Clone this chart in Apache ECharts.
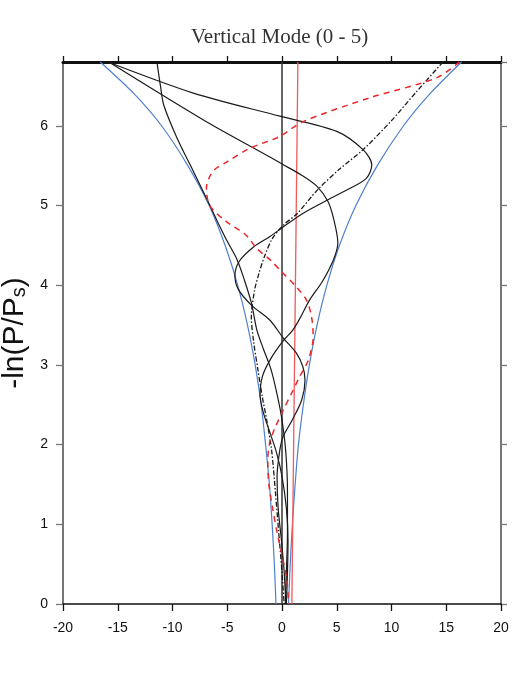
<!DOCTYPE html>
<html>
<head>
<meta charset="utf-8">
<script src="https://cdn.jsdelivr.net/npm/echarts@6/dist/echarts.min.js"></script>
<style>
  html, body { margin: 0; padding: 0; background: #fff; }
  #main { width: 515px; height: 673px; }
</style>
</head>
<body>
<div id="main"></div>
<script>
// envelope (blue)
var envY      = [0, 0.5, 1, 1.5, 2, 2.5, 3, 3.5, 4, 4.5, 5, 5.5, 6, 6.4, 6.8];
var envLeftX  = [-0.55, -0.7, -0.9, -1.15, -1.5, -1.9, -2.45, -3.15, -4.05, -5.2, -6.65, -8.6, -11.0, -13.5, -16.6];
var envRightX = [0.6, 0.75, 0.95, 1.2, 1.5, 1.95, 2.5, 3.2, 4.1, 5.25, 6.75, 8.7, 11.1, 13.5, 16.4];

// red dashed mode
var redY = [6.8, 6.6, 6.35, 6.05, 5.86, 5.72, 5.55, 5.43, 5.22, 5.0, 4.8, 4.63, 4.46, 4.32, 4.15, 3.98, 3.81, 3.6, 3.35, 3.06, 2.85, 2.65, 2.43, 2.22, 2.04, 1.8, 1.5, 1.2, 0.9, 0.55, 0.3, 0];
var redX = [16.2, 14.1, 8.0, 1.9, -0.3, -2.9, -5.0, -6.3, -6.9, -6.6, -5.1, -3.3, -2.3, -1.1, 0.1, 1.3, 2.25, 2.7, 2.85, 2.4, 1.6, 0.9, 0.1, -0.6, -1.1, -1.3, -1.2, -0.85, -0.45, 0.1, 0.45, 0.6];

// black solid, shallow one from top left
var pY = [6.79, 6.41, 6.12, 5.93, 5.7, 5.51, 5.34, 5.2, 5.05, 4.9, 4.73, 4.61, 4.48, 4.3, 4.12, 3.95, 3.75, 3.56, 3.34, 3.15, 2.98, 2.81, 2.56, 2.3, 2.1, 1.93, 1.6, 1.2, 0.8, 0.4, 0];
var pX = [-15.7, -8.1, -0.2, 5.0, 7.4, 8.2, 7.7, 6.0, 3.9, 1.9, 0.1, -1.1, -2.6, -3.9, -4.3, -4.0, -2.8, -1.1, 0.1, 1.3, 1.9, 2.1, 1.8, 0.9, 0.1, -0.2, -0.45, -0.35, -0.05, 0.2, 0.35];

// black solid, second one from top left
var qY = [6.79, 6.05, 5.63, 5.52, 5.38, 5.24, 5.05, 4.84, 4.53, 4.32, 4.05, 3.81, 3.6, 3.44, 3.3, 3.06, 2.85, 2.62, 2.4, 2.15, 1.9, 1.6, 1.2, 0.8, 0.4, 0];
var qX = [-15.7, -6.9, -1.4, 0.0, 1.8, 3.2, 4.2, 4.7, 5.1, 4.7, 3.7, 2.5, 1.7, 1.0, 0.1, -1.1, -1.8, -2.0, -1.7, -1.1, -0.5, 0.0, 0.4, 0.55, 0.5, 0.4];

// black solid, steep one along the left envelope
var rY = [6.78, 6.5, 6.26, 5.85, 5.43, 5.09, 4.8, 4.55, 4.32, 4.05, 3.78, 3.44, 3.2, 2.94, 2.6, 2.31, 1.9, 1.4, 0.9, 0.4, 0];
var rX = [-11.4, -11.1, -10.8, -9.6, -8.1, -6.9, -5.9, -5.0, -4.1, -3.4, -2.8, -2.3, -1.7, -1.0, -0.4, 0.0, 0.35, 0.5, 0.5, 0.4, 0.3];

// black dash-dot from top right
var sY = [6.8, 6.43, 6.05, 5.7, 5.45, 5.19, 4.9, 4.75, 4.58, 4.36, 4.15, 3.94, 3.6, 3.3, 2.94, 2.6, 2.31, 1.93, 1.4, 0.9, 0.4, 0];
var sX = [14.7, 12.3, 9.9, 7.4, 5.2, 3.2, 1.4, 0.1, -0.9, -1.6, -2.1, -2.5, -2.8, -2.6, -2.2, -1.8, -1.4, -0.95, -0.6, -0.3, 0.0, 0.2];

// straight lines
var zeroLineX = [0, 0];
var zeroLineY = [0, 6.8];
var redLineX = [0.9, 1.45];
var redLineY = [0, 6.8];

var xTicks = [-20, 20, 5];   // min, max, step
var yTicks = [0, 6.8, 1];

function zip(xs, ys) {
    var out = [];
    for (var i = 0; i < xs.length; i++) {
        out.push([xs[i], ys[i]]);
    }
    return out;
}

function curve(xs, ys, color, type, width) {
    return {
        type: 'line',
        data: zip(xs, ys),
        smooth: 0.3,
        symbol: 'none',
        silent: true,
        lineStyle: { color: color, width: width, type: type }
    };
}

var myChart = echarts.init(document.getElementById('main'));

var option = {
    backgroundColor: '#fff',
    animation: false,
    title: {
        text: 'Vertical Mode (0 - 5)',
        left: 186,
        top: 22,
        textStyle: {
            fontFamily: 'Liberation Serif',
            fontWeight: 'normal',
            fontSize: 21,
            color: '#333'
        }
    },
    grid: { left: 63, right: 14, top: 62, bottom: 69, outerBoundsMode: 'none', containLabel: false },
    xAxis: [{
        type: 'value',
        position: 'bottom',
        min: xTicks[0], max: xTicks[1], interval: xTicks[2],
        splitLine: { show: false },
        axisLine: { onZero: false, lineStyle: { color: '#111', width: 1.6 } },
        axisTick: { length: 7, lineStyle: { color: '#111', width: 1.3 } },
        axisLabel: { margin: 17, fontSize: 14, color: '#111', fontFamily: 'Liberation Sans' }
    }, {
        type: 'value',
        position: 'top',
        min: xTicks[0], max: xTicks[1], interval: xTicks[2],
        splitLine: { show: false },
        axisLine: { onZero: false, lineStyle: { color: '#111', width: 3 } },
        axisTick: { length: 6, lineStyle: { color: '#111', width: 1.3 } },
        axisLabel: { show: false }
    }],
    yAxis: [{
        type: 'value',
        position: 'left',
        min: yTicks[0], max: yTicks[1], interval: yTicks[2],
        splitLine: { show: false },
        axisLine: { onZero: false, lineStyle: { color: '#777', width: 2 } },
        axisTick: { length: 7, lineStyle: { color: '#777', width: 1.3 } },
        axisLabel: { margin: 15, fontSize: 14, color: '#111', fontFamily: 'Liberation Sans', showMaxLabel: false },
        name: '{a|-ln(P/P}{b|s}{a|)}',
        nameLocation: 'middle',
        nameRotate: 90,
        nameGap: 31,
        nameTextStyle: {
            rich: {
                a: { fontSize: 30, fontFamily: 'Liberation Sans', color: '#111' },
                b: { fontSize: 20, fontFamily: 'Liberation Sans', color: '#111', lineHeight: 8, verticalAlign: 'bottom' }
            }
        }
    }, {
        type: 'value',
        position: 'right',
        min: yTicks[0], max: yTicks[1], interval: yTicks[2],
        splitLine: { show: false },
        axisLine: { onZero: false, lineStyle: { color: '#777', width: 2 } },
        axisTick: { length: 6, lineStyle: { color: '#777', width: 1.3 } },
        axisLabel: { show: false }
    }],
    series: [
        curve(envLeftX, envY, '#4f7fcf', 'solid', 1.2),
        curve(envRightX, envY, '#4f7fcf', 'solid', 1.2),
        curve(zeroLineX, zeroLineY, '#333', 'solid', 1.5),
        curve(redLineX, redLineY, '#f05a5a', 'solid', 1.3),
        curve(pX, pY, '#1a1a1a', 'solid', 1.2),
        curve(qX, qY, '#1a1a1a', 'solid', 1.2),
        curve(rX, rY, '#1a1a1a', 'solid', 1.2),
        curve(sX, sY, '#1a1a1a', [5, 2, 1.5, 2], 1.3),
        curve(redX, redY, '#e8282a', [6, 5], 1.5)
    ]
};

myChart.setOption(option);
</script>
</body>
</html>
